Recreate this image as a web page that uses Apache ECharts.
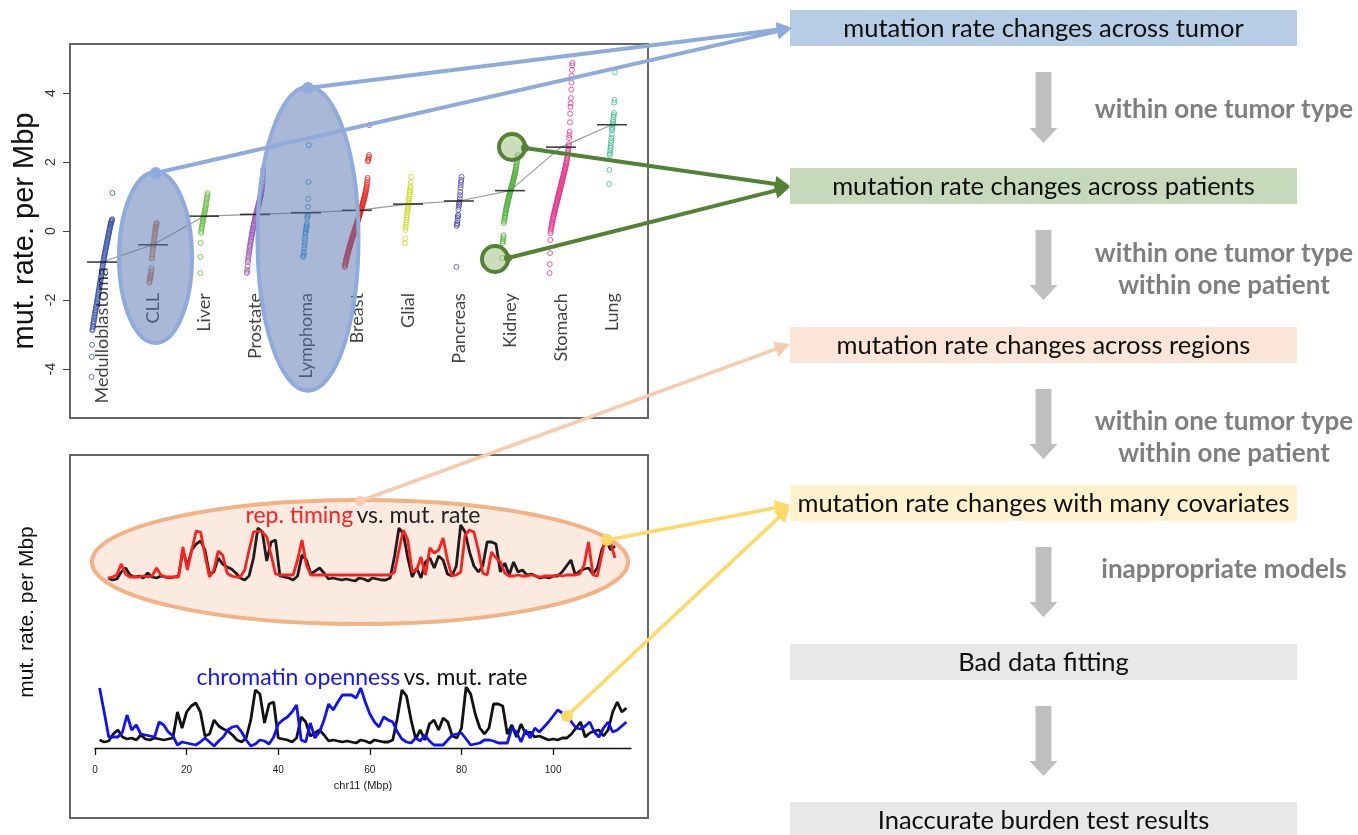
<!DOCTYPE html>
<html>
<head>
<meta charset="utf-8">
<script src="https://cdn.jsdelivr.net/npm/echarts@6/dist/echarts.min.js"></script>
<style>
html,body{margin:0;padding:0;background:#fff;}
#main{width:1358px;height:835px;}
</style>
</head>
<body>
<div id="main"></div>
<script>
// ---------- tumour-type panel: mutation rate per Mbp (log scale) per sample ----------
const categories = ['Medulloblastoma','CLL','Liver','Prostate','Lymphoma','Breast','Glial','Pancreas','Kidney','Stomach','Lung'];
const yTicks = [-4, -2, 0, 2, 4];

const medulloblastoma = [-4.23,-3.65,-3.3,-2.88,-2.84,-2.79,-2.75,-2.69,-2.65,-2.61,-2.56,-2.51,-2.47,-2.42,-2.38,-2.33,-2.3,-2.25,-2.2,-2.16,-2.12,-2.07,-2.03,-1.98,-1.95,-1.9,-1.85,-1.81,-1.76,-1.72,-1.67,-1.63,-1.58,-1.54,-1.49,-1.44,-1.4,-1.35,-1.31,-1.26,-1.21,-1.16,-1.11,-1.06,-1.01,-0.96,-0.91,-0.87,-0.83,-0.78,-0.74,-0.7,-0.67,-0.63,-0.59,-0.55,-0.51,-0.47,-0.44,-0.4,-0.36,-0.32,-0.28,-0.25,-0.21,-0.17,-0.13,-0.09,-0.06,-0.02,0.02,0.05,0.09,0.12,0.16,0.19,0.22,0.25,0.27,0.3,0.32,0.34,1.1];
const cll = [-1.5,-1.47,-1.42,-1.38,-1.33,-1.3,-1.26,-1.2,-1.14,-1.08,-0.8,-0.75,-0.68,-0.6,-0.52,-0.46,-0.42,-0.38,-0.33,-0.26,-0.2,-0.14,-0.08,-0.02,0.04,0.09,0.13,0.17,0.2,0.23];
const liver = [-1.22,-0.75,-0.35,-0.06,0.0,0.06,0.1,0.15,0.2,0.24,0.28,0.32,0.36,0.4,0.43,0.47,0.5,0.54,0.58,0.62,0.66,0.7,0.75,0.8,0.85,0.9,0.95,1.0,1.05,1.1];
const prostate = [-1.22,-1.18,-1.12,-1.02,-0.9,-0.84,-0.78,-0.72,-0.66,-0.61,-0.56,-0.5,-0.45,-0.41,-0.36,-0.31,-0.27,-0.22,-0.18,-0.14,-0.1,-0.06,-0.02,0.02,0.06,0.1,0.14,0.17,0.21,0.24,0.28,0.31,0.34,0.38,0.41,0.44,0.47,0.5,0.53,0.56,0.59,0.62,0.65,0.68,0.71,0.74,0.77,0.8,0.83,0.86,0.89,0.92,0.95,0.98,1.01,1.04,1.08,1.12,1.17,1.22,1.3,1.38,1.5,1.62,1.77];
const lymphoma = [-0.75,-0.72,-0.66,-0.6,-0.5,-0.42,-0.33,-0.24,-0.16,-0.08,-0.04,0.03,0.08,0.12,0.17,0.22,0.37,0.42,0.46,0.7,0.93,1.42,2.49];
const breast = [-1.04,-1.0,-0.97,-0.93,-0.9,-0.86,-0.83,-0.8,-0.77,-0.74,-0.71,-0.68,-0.65,-0.62,-0.6,-0.57,-0.54,-0.52,-0.49,-0.46,-0.44,-0.41,-0.39,-0.36,-0.34,-0.31,-0.29,-0.26,-0.24,-0.21,-0.19,-0.17,-0.14,-0.12,-0.1,-0.07,-0.05,-0.03,0.0,0.02,0.04,0.07,0.09,0.11,0.14,0.16,0.18,0.21,0.23,0.25,0.28,0.3,0.32,0.35,0.37,0.4,0.42,0.45,0.47,0.5,0.52,0.55,0.57,0.6,0.62,0.65,0.67,0.7,0.72,0.75,0.78,0.8,0.83,0.86,0.88,0.91,0.94,0.97,1.0,1.03,1.06,1.1,1.13,1.17,1.21,1.25,1.3,1.35,1.41,1.48,1.54,2.02,2.06,2.1,2.15,2.2,3.07];
const glial = [-0.35,-0.22,0.03,0.1,0.18,0.25,0.32,0.38,0.45,0.52,0.58,0.64,0.7,0.76,0.82,0.88,0.94,1.0,1.06,1.12,1.18,1.24,1.3,1.42,1.57];
const pancreas = [-1.04,0.15,0.19,0.23,0.3,0.38,0.43,0.47,0.62,0.7,0.76,0.8,0.85,0.95,1.04,1.13,1.25,1.33,1.42,1.48,1.57];
const kidney = [-0.78,-0.35,-0.3,-0.24,-0.18,-0.12,0.23,0.28,0.33,0.38,0.42,0.47,0.51,0.55,0.59,0.63,0.67,0.7,0.74,0.77,0.8,0.84,0.87,0.9,0.93,0.96,0.99,1.02,1.05,1.08,1.11,1.14,1.16,1.19,1.22,1.25,1.28,1.3,1.33,1.36,1.39,1.42,1.45,1.48,1.51,1.54,1.57,1.6,1.63,1.66,1.7,1.74,1.78,1.82,1.86,1.9,1.95,2.0,2.06,2.13,2.2];
const stomach = [-1.22,-0.96,-0.64,-0.26,-0.06,0.0,0.05,0.1,0.14,0.18,0.22,0.26,0.3,0.34,0.37,0.41,0.44,0.48,0.51,0.54,0.57,0.6,0.63,0.66,0.69,0.72,0.75,0.78,0.81,0.84,0.87,0.9,0.93,0.96,0.99,1.02,1.05,1.08,1.11,1.14,1.17,1.2,1.23,1.26,1.29,1.32,1.35,1.38,1.41,1.44,1.47,1.5,1.53,1.56,1.59,1.62,1.65,1.68,1.71,1.74,1.77,1.8,1.83,1.86,1.9,1.94,1.98,2.02,2.06,2.1,2.15,2.2,2.26,2.32,2.38,2.45,2.52,2.7,2.78,2.88,3.15,3.4,3.6,3.7,3.85,4.1,4.3,4.5,4.67,4.8,4.87];
const lung = [1.36,1.77,2.2,2.25,2.33,2.4,2.46,2.55,2.62,2.7,2.8,2.93,2.97,3.02,3.1,3.16,3.22,3.3,3.36,3.42,3.72,3.8,4.6];
const typeMedians = [-0.9,-0.4,0.43,0.48,0.53,0.6,0.78,0.87,1.17,2.43,3.08];

// ---------- chr11 profiles, one value per Mbp (1..116), relative units ----------
const chrTicks = [0, 20, 40, 60, 80, 100];
const mutRate = [2,0,1,8,12,5,3,4,2,7, 3,2,4,3,2,3,4,30,14,30, 36,39,30,6,8,22,16,13,11,7, 2,0,4,22,52,48,19,38,40,4, 3,2,0,4,25,20,6,9,12,7, 1,2,1,0,1,0,-1,2,1,-1, 2,1,0,0,2,24,52,46,22,3, 12,2,18,22,12,24,20,6,4,14, 55,48,28,14,8,14,38,38,36,8, 17,5,18,8,10,5,6,4,2,3, 2,4,4,8,14,20,5,9,11,12, 6,12,30,40,30,34];
const repTiming = [2,3,5,16,6,3,3,3,4,3, 4,12,5,3,3,3,3,33,10,30, 49,48,25,3,10,29,25,7,4,3, 3,10,30,48,49,48,43,25,6,5, 5,5,5,20,40,15,5,5,5,5, 5,5,5,5,5,5,5,5,5,5, 5,5,5,5,5,8,30,50,40,8, 10,23,5,32,27,30,42,20,4,5, 8,45,50,48,30,7,5,28,22,18, 7,4,4,5,4,4,5,4,3,4, 4,4,5,4,5,5,5,6,15,38, 5,4,25,45,37,22];
const openness = [54,30,5,5,5,10,27,12,17,8, 7,6,5,20,17,10,6,-3,0,-1, -2,-3,0,4,0,-4,1,5,12,15, 16,10,2,-4,-2,2,1,-2,5,18, 22,25,30,37,2,0,19,4,10,22, 38,32,40,47,47,47,44,54,40,28, 20,15,25,22,20,10,3,0,-1,4, 1,7,1,-3,-3,-3,2,7,8,9, 3,-3,-2,-1,2,2,1,-1,-1,-1, 14,10,0,12,4,14,10,15,20,26, 32,29,28,20,14,13,16,20,10,5, 14,20,10,12,16,20];

const typeColors = ['#3a52ad','#c57a47','#66be45','#9c58b4','#3590d0','#e8281f','#ccd81e','#4b48a4','#4fb03a','#e8338e','#3cb98e'];
const sampleStep = 0.005;      // horizontal offset between neighbouring samples (category units)
const labelTop = -1.8;         // level where the rotated type names end
const labelBottom = -5.0;      // long names are anchored at their start instead

const chart = echarts.init(document.getElementById('main'), null, {renderer: 'canvas'});

const pts = arr => arr.map((v, i) => [i + 1, v]);

const typeScatter = [medulloblastoma, cll, liver, prostate, lymphoma, breast, glial, pancreas, kidney, stomach, lung].map((vals, i) => ({
  type: 'scatter', name: categories[i], xAxisIndex: 0, yAxisIndex: 0,
  symbol: 'circle', symbolSize: 5, z: 3,
  itemStyle: {color: 'rgba(0,0,0,0)', borderColor: typeColors[i], borderWidth: 1},
  data: vals.map((v, k) => [i - (vals.length - 1) * sampleStep / 2 + k * sampleStep, v])
}));

const catLabelData = categories.map((c, i) => {
  const long = c.length > 12;
  return {name: c, value: [i, long ? labelBottom : labelTop], label: {align: long ? 'left' : 'right'}};
});

// ---------- overlay drawing helpers ----------
function arrowLine(x0, y0, x1, y1, color, width, headLen, headW) {
  const dx = x1 - x0, dy = y1 - y0, L = Math.hypot(dx, dy), ux = dx / L, uy = dy / L;
  const bx = x1 - ux * headLen, by = y1 - uy * headLen;
  return [
    {type: 'line', z: 60, shape: {x1: x0, y1: y0, x2: bx + ux * 2, y2: by + uy * 2}, style: {stroke: color, lineWidth: width, lineCap: 'round'}},
    {type: 'polygon', z: 60, shape: {points: [[x1, y1], [bx - uy * headW, by + ux * headW], [bx + uy * headW, by - ux * headW]]}, style: {fill: color}}
  ];
}
function dot(x, y, r, color) {
  return {type: 'circle', z: 61, shape: {cx: x, cy: y, r: r}, style: {fill: color}};
}
function downArrow(cx, y0, y1) {
  const sw = 8, hw = 14, hl = 15;
  return {type: 'polygon', z: 5, shape: {points: [[cx - sw, y0], [cx + sw, y0], [cx + sw, y1 - hl], [cx + hw, y1 - hl], [cx, y1], [cx - hw, y1 - hl], [cx - sw, y1 - hl]]}, style: {fill: '#bfbfbf'}};
}

const boxX = 790, boxW = 507, boxH = 36;
const steps = [
  {top: 10,  text: 'mutation rate changes across tumor', fill: '#b7cde5'},
  {top: 168, text: 'mutation rate changes across patients', fill: '#c7d9bb'},
  {top: 327, text: 'mutation rate changes across regions', fill: '#fbe5d6'},
  {top: 485, text: 'mutation rate changes with many covariates', fill: '#fff2cc'},
  {top: 644, text: 'Bad data fitting', fill: '#e8e8e8'},
  {top: 802, text: 'Inaccurate burden test results', fill: '#e8e8e8'}
];
const arrowsY = [[72, 143], [230, 300], [389, 459], [547, 617], [706, 776]];
const notes = [
  {y: 110, text: 'within one tumor type'},
  {y: 254, text: 'within one tumor type'},
  {y: 286, text: 'within one patient'},
  {y: 422, text: 'within one tumor type'},
  {y: 454, text: 'within one patient'},
  {y: 570, text: 'inappropriate models'}
];

const graphics = [];
// frame of the chromosome panel
graphics.push({type: 'rect', z: 1, shape: {x: 70, y: 455, width: 578, height: 363}, style: {fill: 'none', stroke: '#666', lineWidth: 2}});
// highlighted replication-timing region
graphics.push({type: 'ellipse', z: 1, shape: {cx: 360, cy: 562, rx: 268, ry: 62}, style: {fill: '#fbeadf', stroke: '#f4b183', lineWidth: 4}});
// panel captions
graphics.push({type: 'text', z: 20, style: {x: 363, y: 516, text: '{r|rep. timing} {k|vs. mut. rate}', textAlign: 'center', textVerticalAlign: 'middle',
  rich: {r: {fill: '#ff2020', fontSize: 23, fontFamily: 'Lato'}, k: {fill: '#222', fontSize: 23, fontFamily: 'Lato'}}}});
graphics.push({type: 'text', z: 20, style: {x: 362, y: 678, text: '{b|chromatin openness} {k|vs. mut. rate}', textAlign: 'center', textVerticalAlign: 'middle',
  rich: {b: {fill: '#1515ff', fontSize: 23, fontFamily: 'Lato'}, k: {fill: '#111', fontSize: 23, fontFamily: 'Lato'}}}});
// y titles
graphics.push({type: 'text', z: 20, x: 25, y: 231, rotation: Math.PI / 2, style: {x: 0, y: 0, text: 'mut. rate. per Mbp', textAlign: 'center', textVerticalAlign: 'middle', fill: '#111', font: '29px "Liberation Sans"'}});
graphics.push({type: 'text', z: 20, x: 27, y: 612, rotation: Math.PI / 2, style: {x: 0, y: 0, text: 'mut. rate. per Mbp', textAlign: 'center', textVerticalAlign: 'middle', fill: '#111', font: '21px "Liberation Sans"'}});

// highlighted tumour types
graphics.push({type: 'ellipse', z: 50, shape: {cx: 155.5, cy: 257.5, rx: 36.5, ry: 85.5}, style: {fill: 'rgba(81,113,173,0.5)', stroke: '#8faadc', lineWidth: 4}});
graphics.push({type: 'ellipse', z: 50, shape: {cx: 308, cy: 238.7, rx: 50.5, ry: 152}, style: {fill: 'rgba(81,113,173,0.5)', stroke: '#8faadc', lineWidth: 4}});
// highlighted kidney samples
graphics.push({type: 'circle', z: 50, shape: {cx: 512, cy: 147, r: 13}, style: {fill: 'rgba(150,190,120,0.5)', stroke: '#548235', lineWidth: 4}});
graphics.push({type: 'circle', z: 50, shape: {cx: 495, cy: 259, r: 13}, style: {fill: 'rgba(150,190,120,0.5)', stroke: '#548235', lineWidth: 4}});

// connectors
graphics.push(...arrowLine(155.7, 173, 792, 28, '#8faadc', 4, 15, 8));
graphics.push(...arrowLine(308, 88, 792, 28, '#8faadc', 4, 15, 8));
graphics.push(dot(155.7, 173, 6, '#8faadc'), dot(308, 88, 6, '#8faadc'));
graphics.push(...arrowLine(525, 148, 790, 186, '#548235', 4, 15, 8));
graphics.push(...arrowLine(508, 258, 790, 187, '#548235', 4, 15, 8));
graphics.push(dot(525, 148, 4, '#548235'), dot(508, 258, 4, '#548235'));
graphics.push(...arrowLine(360, 501, 790, 344, '#f8cbad', 3.5, 15, 8));
graphics.push(dot(360, 501, 5, '#f8cbad'));
graphics.push(...arrowLine(607, 540, 790, 505, '#ffd966', 3.5, 15, 8));
graphics.push(...arrowLine(567, 716, 790, 507, '#ffd966', 3.5, 15, 8));
graphics.push(dot(607, 540, 6, '#ffd966'), dot(567, 716, 6, '#ffd966'));

// flow chart
steps.forEach(s => {
  graphics.push({type: 'rect', z: 5, shape: {x: boxX, y: s.top, width: boxW, height: boxH}, style: {fill: s.fill}});
  graphics.push({type: 'text', z: 6, style: {x: boxX + boxW / 2, y: s.top + boxH / 2 + 1, text: s.text, textAlign: 'center', textVerticalAlign: 'middle', fill: '#0d0d0d', font: '25.5px Lato'}});
});
arrowsY.forEach(a => graphics.push(downArrow(1043.5, a[0], a[1])));
notes.forEach(n => graphics.push({type: 'text', z: 6, style: {x: 1224, y: n.y, text: n.text, textAlign: 'center', textVerticalAlign: 'middle', fill: '#7f7f7f', font: 'bold 26px Lato'}}));

const option = {
  animation: false,
  backgroundColor: '#fff',
  textStyle: {fontFamily: 'Liberation Sans'},
  grid: [
    {left: 70, top: 44, width: 578, height: 374, show: true, borderColor: '#666', borderWidth: 2, backgroundColor: 'transparent'},
    {left: 103.6, top: 500, width: 511.4, height: 100},
    {left: 95, top: 680, width: 536, height: 68}
  ],
  xAxis: [
    {gridIndex: 0, type: 'value', min: -0.627, max: 10.706, show: false},
    {gridIndex: 1, type: 'value', min: 0, max: 116, show: false},
    {gridIndex: 2, type: 'value', min: 0, max: 117,
      axisLine: {show: true, onZero: false, lineStyle: {color: '#111', width: 1.3}},
      axisTick: {show: true, length: 7, customValues: chrTicks, lineStyle: {color: '#111', width: 1.3}},
      axisLabel: {customValues: chrTicks, fontSize: 10, color: '#222', margin: 17},
      splitLine: {show: false},
      name: 'chr11 (Mbp)', nameLocation: 'middle', nameGap: 32, nameTextStyle: {fontSize: 11, color: '#222'}}
  ],
  yAxis: [
    {gridIndex: 0, type: 'value', min: -5.42, max: 5.42,
      axisLine: {show: false, onZero: false},
      axisTick: {show: true, length: 7, customValues: yTicks, lineStyle: {color: '#444', width: 1}},
      axisLabel: {customValues: yTicks, rotate: 90, fontSize: 14, color: '#333', margin: 12},
      splitLine: {show: false}},
    {gridIndex: 1, type: 'value', min: -20, max: 80, show: false},
    {gridIndex: 2, type: 'value', min: -6, max: 62, show: false}
  ],
  graphic: {elements: graphics},
  series: [
    {type: 'line', name: 'type medians link', xAxisIndex: 0, yAxisIndex: 0, z: 2, symbol: 'none',
      lineStyle: {color: '#9a9a9a', width: 1.2}, data: typeMedians.map((v, i) => [i, v])},
    ...typeScatter,
    {type: 'scatter', name: 'type medians', xAxisIndex: 0, yAxisIndex: 0, z: 4, symbol: 'rect', symbolSize: [30, 1.6],
      itemStyle: {color: '#111'}, data: typeMedians.map((v, i) => [i, v])},
    {type: 'scatter', name: 'type names', xAxisIndex: 0, yAxisIndex: 0, z: 5, symbolSize: 1,
      itemStyle: {color: 'rgba(0,0,0,0)'},
      label: {show: true, position: 'inside', rotate: 90, verticalAlign: 'middle', formatter: p => p.name,
        fontFamily: 'Lato', fontSize: 18, color: '#111'},
      data: catLabelData},
    {type: 'line', name: 'mut. rate', xAxisIndex: 1, yAxisIndex: 1, z: 3, symbol: 'none',
      lineStyle: {color: '#1c1c1c', width: 2.8}, data: pts(mutRate)},
    {type: 'line', name: 'rep. timing', xAxisIndex: 1, yAxisIndex: 1, z: 4, symbol: 'none',
      lineStyle: {color: '#ff1f1f', width: 2.8}, data: pts(repTiming)},
    {type: 'line', name: 'mut. rate', xAxisIndex: 2, yAxisIndex: 2, z: 3, symbol: 'none',
      lineStyle: {color: '#111', width: 2.8}, data: pts(mutRate)},
    {type: 'line', name: 'chromatin openness', xAxisIndex: 2, yAxisIndex: 2, z: 4, symbol: 'none',
      lineStyle: {color: '#1010ff', width: 2.8}, data: pts(openness)}
  ]
};
chart.setOption(option);
</script>
</body>
</html>
